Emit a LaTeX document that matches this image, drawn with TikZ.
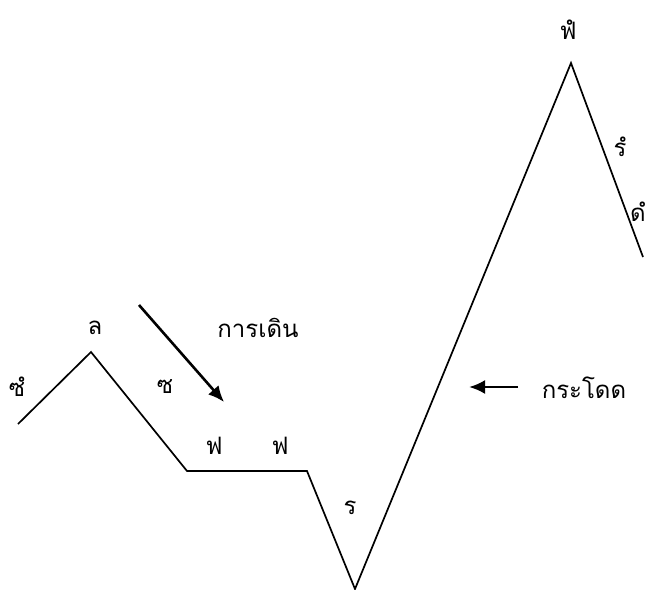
\documentclass[tikz,border=0pt]{standalone}
\usepackage{fontspec}
\newfontfamily\thaifont[Script=Thai]{Loma}
\usetikzlibrary{arrows.meta}

\begin{document}
\begin{tikzpicture}[x=1pt, y=-1pt, every node/.style={font=\thaifont\fontsize{24}{28}\selectfont},
  melody/.style={line width=1.7pt, line join=miter},
  pointer/.style={line width=2.6pt, -{Latex[length=16pt,width=14pt]}}]
  \useasboundingbox (0,0) rectangle (649,590);

  % melody line
  \coordinate (m1) at (18,424);
  \coordinate (m2) at (91,352);
  \coordinate (m3) at (187,471);
  \coordinate (m4) at (307,471);
  \coordinate (m5) at (355,589);
  \coordinate (m6) at (571,63);
  \coordinate (m7) at (643,257);
  \draw[melody] (m1) -- (m2) -- (m3) -- (m4) -- (m5) -- (m6) -- (m7);

  % notes
  \node (sollow) at (17,387) {ซํ};
  \node (la) at (95,328) {ล};
  \node (sol) at (165,387) {ซ};
  \node (fa1) at (214,446) {ฟ};
  \node (fa2) at (280,446) {ฟ};
  \node (re) at (350,508) {ร};
  \node (fahigh) at (568,30) {ฟํ};
  \node (rehigh) at (620,147) {รํ};
  \node[inner sep=0pt] (dohigh) at (638,212) {ดํ};

  % arrows
  \node (walk) at (258,328) {การเดิน};
  \coordinate (walkstart) at (139,305);
  \coordinate (walkend) at (224,402);
  \draw[pointer] (walkstart) -- (walkend);

  \node (jump) at (584,388) {กระโดด};
  \coordinate (jumpstart) at (518,387);
  \coordinate (jumpend) at (469,387);
  \draw[pointer] (jumpstart) -- (jumpend);
\end{tikzpicture}
\end{document}
